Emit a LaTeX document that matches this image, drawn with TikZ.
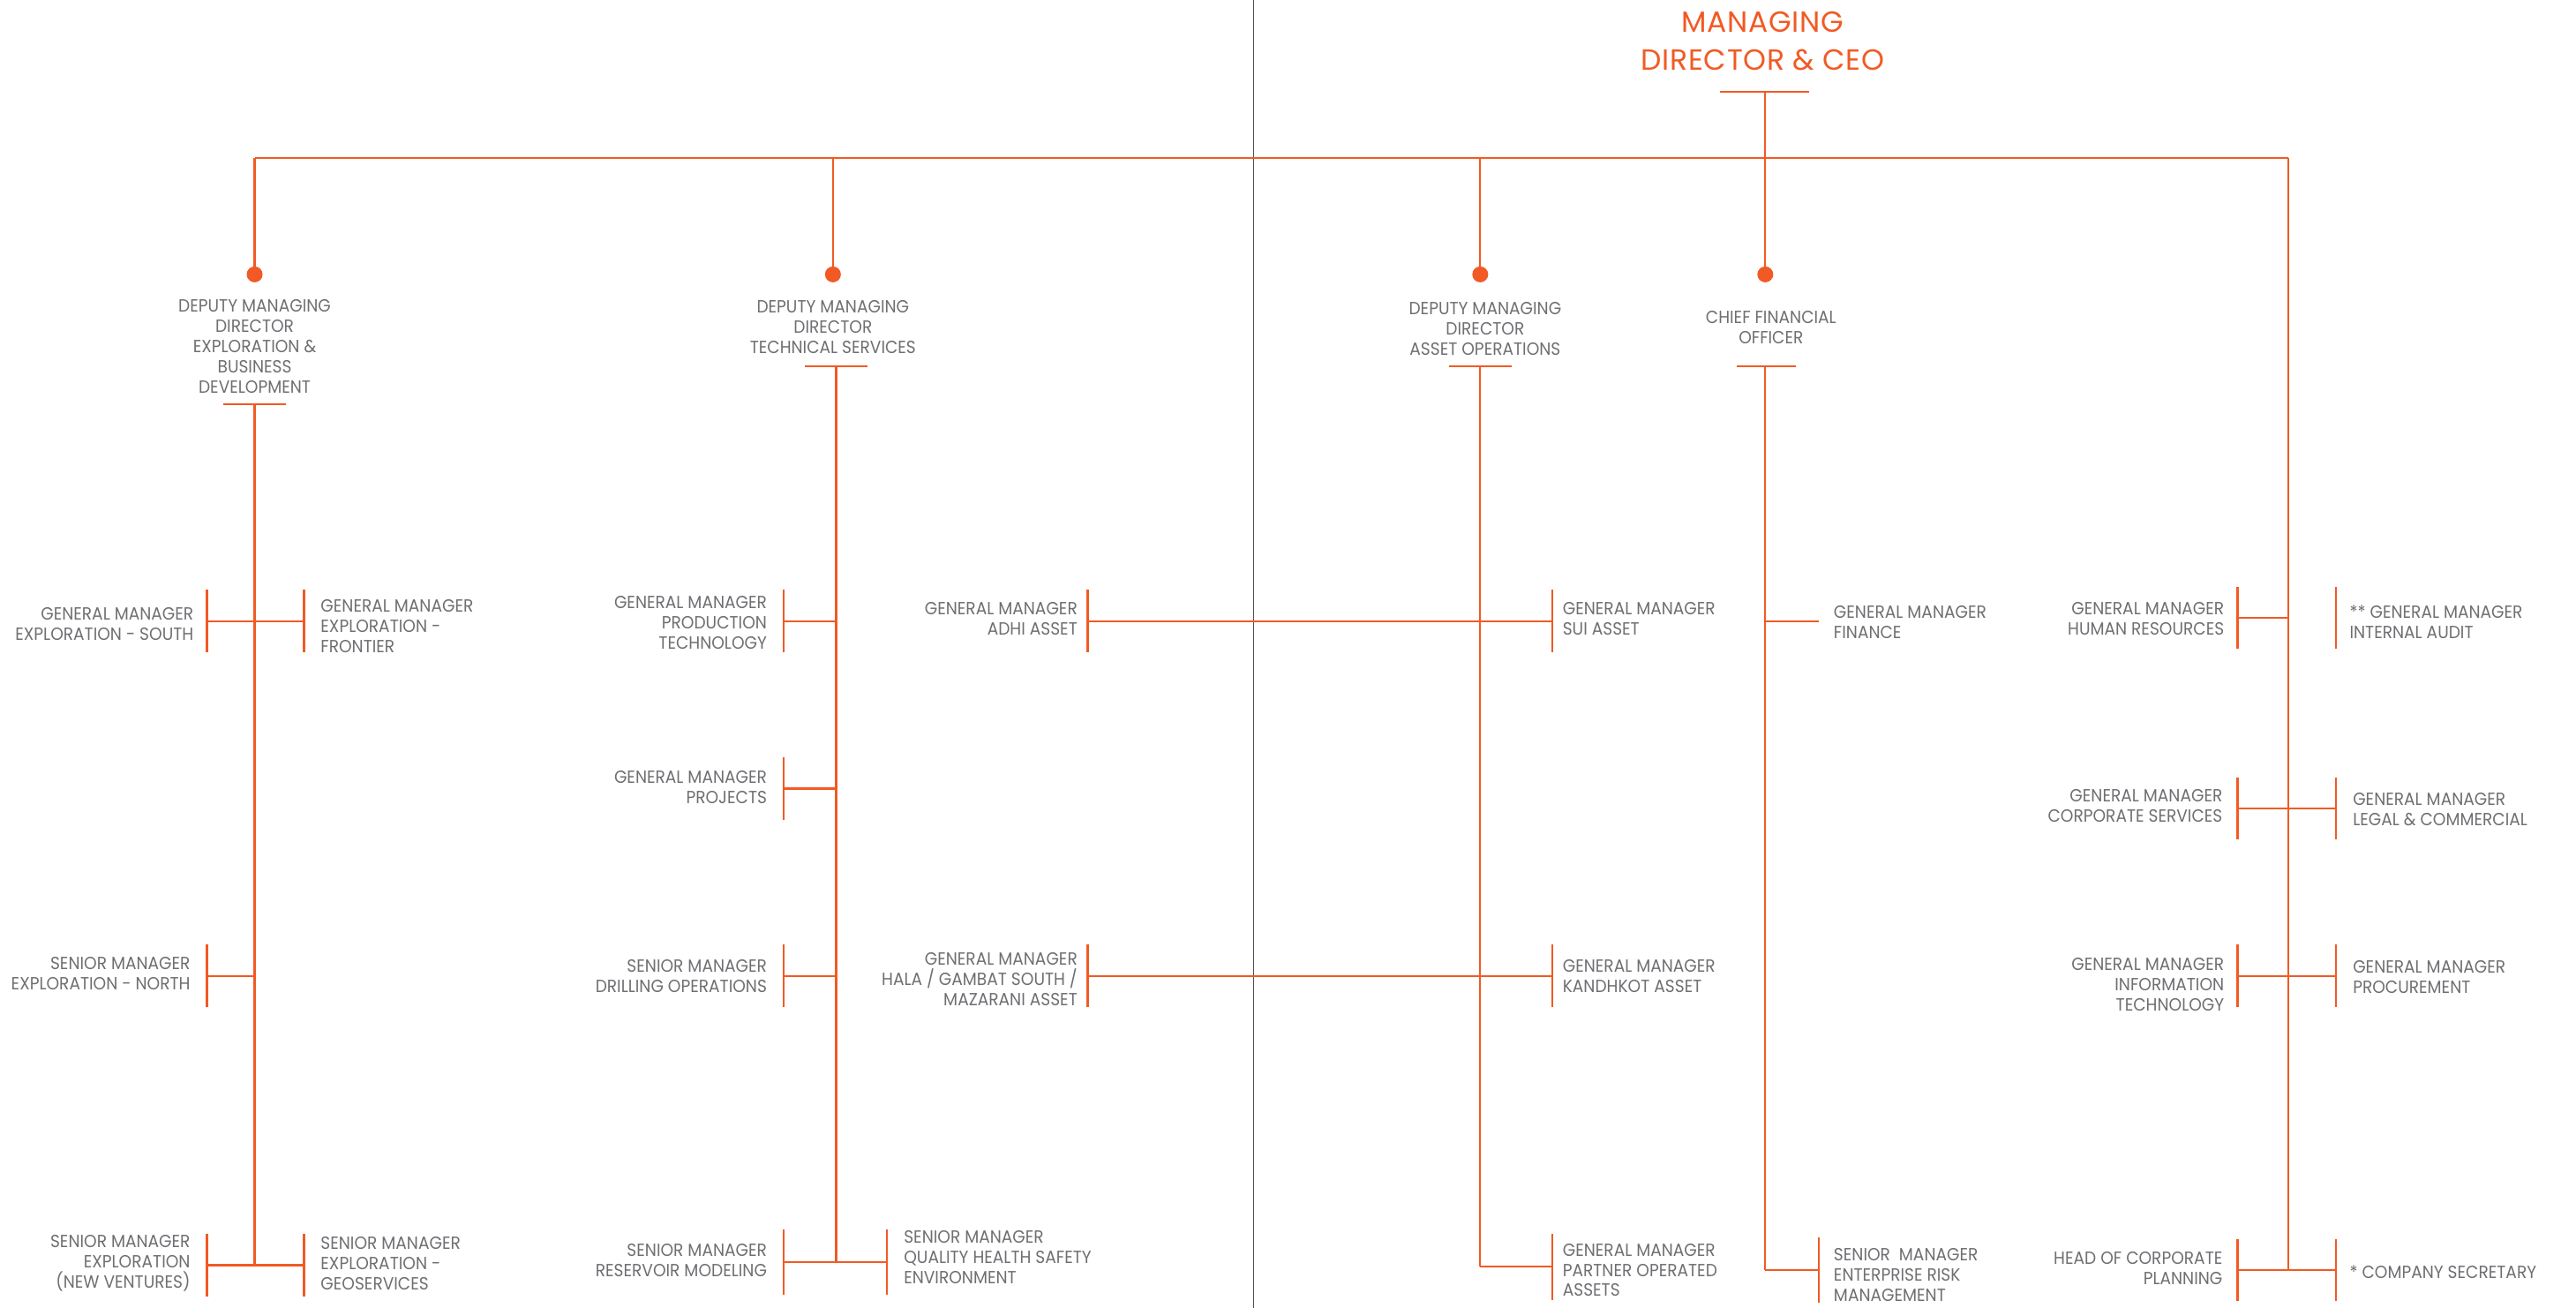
\documentclass[tikz,border=0pt]{standalone}
\usepackage{fontspec}
\setmainfont{Poppins}[FakeStretch=0.93]
\newfontfamily\ceofont{Poppins}[LetterSpace=2]
\definecolor{org}{RGB}{241,90,36}
\definecolor{txtgray}{RGB}{110,111,114}
\definecolor{divgray}{RGB}{80,80,80}
\tikzset{
  ln/.style={draw=org, line width=1.1pt},
  divider/.style={draw=divgray, line width=0.7pt},
  txt/.style={font=\fontsize{10}{11.45}\selectfont, text=txtgray, inner sep=0pt},
  lt/.style={txt, anchor=east, align=right},
  rt/.style={txt, anchor=west, align=left},
  ct/.style={txt, anchor=center, align=center},
  dotn/.style={circle, fill=org, minimum size=9pt, inner sep=0pt},
}
\newcommand{\brk}[2][19]{\draw[ln] (#2) ++(0,-#1) -- ++(0,2*#1);}
\begin{document}
\begin{tikzpicture}[x=0.9308pt,y=-0.9308pt]
\useasboundingbox (0,0) rectangle (1568,796);

% divider
\coordinate (divT) at (763,0);
\coordinate (divB) at (763,796);
\draw[divider] (divT) -- (divB);

% CEO
\node[ct, font=\ceofont\fontsize{16.5}{21.5}\selectfont, text=org] (ceo) at (1073,25) {MANAGING\\DIRECTOR \& CEO};
\coordinate (ceoBL) at (1047,56);
\coordinate (ceoBR) at (1101,56);
\coordinate (ceoBM) at (1074.5,56);
\coordinate (busL) at (155,96);
\coordinate (busR) at (1393,96);
\coordinate (j2) at (507,96);
\coordinate (j3) at (901,96);
\coordinate (j4) at (1074.5,96);
\draw[ln] (ceoBL) -- (ceoBR);
\draw[ln] (ceoBM) -- (j4);
\draw[ln] (busL) -- (busR);

% dots
\node[dotn] (d1) at (155,167) {};
\node[dotn] (d2) at (507,167) {};
\node[dotn] (d3) at (901,167) {};
\node[dotn] (d4) at (1074.5,167) {};
\draw[ln] (busL) -- (d1.center);
\draw[ln] (j2) -- (d2.center);
\draw[ln] (j3) -- (d3.center);
\draw[ln] (j4) -- (d4.center);

% ---------- column 1 ----------
\node[ct] (dmd1) at (155,211) {DEPUTY MANAGING\\DIRECTOR\\EXPLORATION \&\\BUSINESS\\DEVELOPMENT};
\coordinate (b1L) at (136,246);
\coordinate (b1R) at (174,246);
\coordinate (b1M) at (155,246);
\coordinate (s1B) at (155,770);
\draw[ln] (b1L) -- (b1R);
\draw[ln] (b1M) -- (s1B);

\coordinate (k1a) at (126,378);
\coordinate (k1b) at (185,378);
\draw[ln] (k1a) -- (k1b);
\brk{k1a} \brk{k1b}
\node[lt] (gmsouth) at (118,380) {GENERAL MANAGER\\EXPLORATION - SOUTH};
\node[rt] (gmfront) at (195,381) {GENERAL MANAGER\\EXPLORATION -\\FRONTIER};

\coordinate (k1c) at (126,594);
\coordinate (k1cj) at (155,594);
\draw[ln] (k1c) -- (k1cj);
\brk{k1c}
\node[lt] (smnorth) at (116,592.5) {SENIOR MANAGER\\EXPLORATION - NORTH};

\coordinate (k1d) at (126,770);
\coordinate (k1e) at (185,770);
\draw[ln] (k1d) -- (k1e);
\brk{k1d} \brk{k1e}
\node[lt] (smnew) at (116,769) {SENIOR MANAGER\\EXPLORATION\\(NEW VENTURES)};
\node[rt] (smgeo) at (195,769) {SENIOR MANAGER\\EXPLORATION -\\GEOSERVICES};

% ---------- column 2 ----------
\node[ct] (dmd2) at (507,199) {DEPUTY MANAGING\\DIRECTOR\\TECHNICAL SERVICES};
\coordinate (b2L) at (490,223);
\coordinate (b2R) at (528,223);
\coordinate (b2M) at (509,223);
\coordinate (s2B) at (509,768);
\draw[ln] (b2L) -- (b2R);
\draw[ln] (b2M) -- (s2B);

\coordinate (k2a) at (477,378);
\coordinate (k2aj) at (509,378);
\draw[ln] (k2a) -- (k2aj);
\brk{k2a}
\node[lt] (gmprod) at (467,379) {GENERAL MANAGER\\PRODUCTION\\TECHNOLOGY};

\coordinate (k2b) at (477,480);
\coordinate (k2bj) at (509,480);
\draw[ln] (k2b) -- (k2bj);
\brk{k2b}
\node[lt] (gmproj) at (467,479) {GENERAL MANAGER\\PROJECTS};

\coordinate (k2c) at (477,594);
\coordinate (k2cj) at (509,594);
\draw[ln] (k2c) -- (k2cj);
\brk{k2c}
\node[lt] (smdrill) at (467,594) {SENIOR MANAGER\\DRILLING OPERATIONS};

\coordinate (k2d) at (477,768);
\coordinate (k2e) at (540,768);
\draw[ln] (k2d) -- (k2e);
\brk[20]{k2d} \brk[20]{k2e}
\node[lt] (smres) at (467,767) {SENIOR MANAGER\\RESERVOIR MODELING};
\node[rt] (smqhse) at (550,765) {SENIOR MANAGER\\QUALITY HEALTH SAFETY\\ENVIRONMENT};

% ---------- column 3 ----------
\node[ct] (dmd3) at (904,200) {DEPUTY MANAGING\\DIRECTOR\\ASSET OPERATIONS};
\coordinate (b3L) at (882,223);
\coordinate (b3R) at (920,223);
\coordinate (b3M) at (901,223);
\coordinate (s3B) at (901,771);
\draw[ln] (b3L) -- (b3R);
\draw[ln] (b3M) -- (s3B);

\coordinate (k3a) at (662,378);
\coordinate (k3b) at (945,378);
\draw[ln] (k3a) -- (k3b);
\brk{k3a} \brk{k3b}
\node[lt] (gmadhi) at (656,376.5) {GENERAL MANAGER\\ADHI ASSET};
\node[rt] (gmsui) at (951,376.5) {GENERAL MANAGER\\SUI ASSET};

\coordinate (k3c) at (662,594);
\coordinate (k3d) at (945,594);
\draw[ln] (k3c) -- (k3d);
\brk{k3c} \brk{k3d}
\node[lt] (gmhala) at (656,596) {GENERAL MANAGER\\HALA / GAMBAT SOUTH /\\MAZARANI ASSET};
\node[rt] (gmkand) at (951,594) {GENERAL MANAGER\\KANDHKOT ASSET};

\coordinate (k3e) at (945,771);
\draw[ln] (s3B) -- (k3e);
\brk[20]{k3e}
\node[rt] (gmpart) at (951,773) {GENERAL MANAGER\\PARTNER OPERATED\\ASSETS};

% ---------- column 4 ----------
\node[ct] (cfo) at (1078,199.5) {CHIEF FINANCIAL\\OFFICER};
\coordinate (b4L) at (1057,223);
\coordinate (b4R) at (1093,223);
\coordinate (b4M) at (1074.5,223);
\coordinate (s4B) at (1074.5,773);
\draw[ln] (b4L) -- (b4R);
\draw[ln] (b4M) -- (s4B);

\coordinate (k4j) at (1074.5,378);
\coordinate (k4a) at (1107,378);
\draw[ln] (k4j) -- (k4a);
\node[rt] (gmfin) at (1116,378.5) {GENERAL MANAGER\\FINANCE};

\coordinate (k4b) at (1107,773);
\draw[ln] (s4B) -- (k4b);
\brk[20]{k4b}
\node[rt] (smerm) at (1116,776) {SENIOR\ \ MANAGER\\ENTERPRISE RISK\\MANAGEMENT};

% ---------- column 5 ----------
\coordinate (s5B) at (1393,773);
\draw[ln] (busR) -- (s5B);

\coordinate (k5a) at (1362,376);
\coordinate (k5aj) at (1393,376);
\coordinate (k5ab) at (1422,376);
\draw[ln] (k5a) -- (k5aj);
\brk{k5a} \brk{k5ab}
\node[lt] (gmhr) at (1354,376.5) {GENERAL MANAGER\\HUMAN RESOURCES};
\node[rt] (gmaudit) at (1430,378.5) {** GENERAL MANAGER\\INTERNAL AUDIT};

\coordinate (k5b) at (1362,492);
\coordinate (k5c) at (1422,492);
\draw[ln] (k5b) -- (k5c);
\brk{k5b} \brk{k5c}
\node[lt] (gmcorp) at (1353,490.5) {GENERAL MANAGER\\CORPORATE SERVICES};
\node[rt] (gmlegal) at (1432,492.5) {GENERAL MANAGER\\LEGAL \& COMMERCIAL};

\coordinate (k5d) at (1362,594);
\coordinate (k5e) at (1422,594);
\draw[ln] (k5d) -- (k5e);
\brk{k5d} \brk{k5e}
\node[lt] (gmit) at (1354,599) {GENERAL MANAGER\\INFORMATION\\TECHNOLOGY};
\node[rt] (gmproc) at (1432,594.5) {GENERAL MANAGER\\PROCUREMENT};

\coordinate (k5f) at (1362,773);
\coordinate (k5g) at (1422,773);
\draw[ln] (k5f) -- (k5g);
\brk[19]{k5f} \brk[19]{k5g}
\node[lt] (headplan) at (1353,772) {HEAD OF CORPORATE\\PLANNING};
\node[rt] (compsec) at (1430,774) {* COMPANY SECRETARY};

\end{tikzpicture}
\end{document}
